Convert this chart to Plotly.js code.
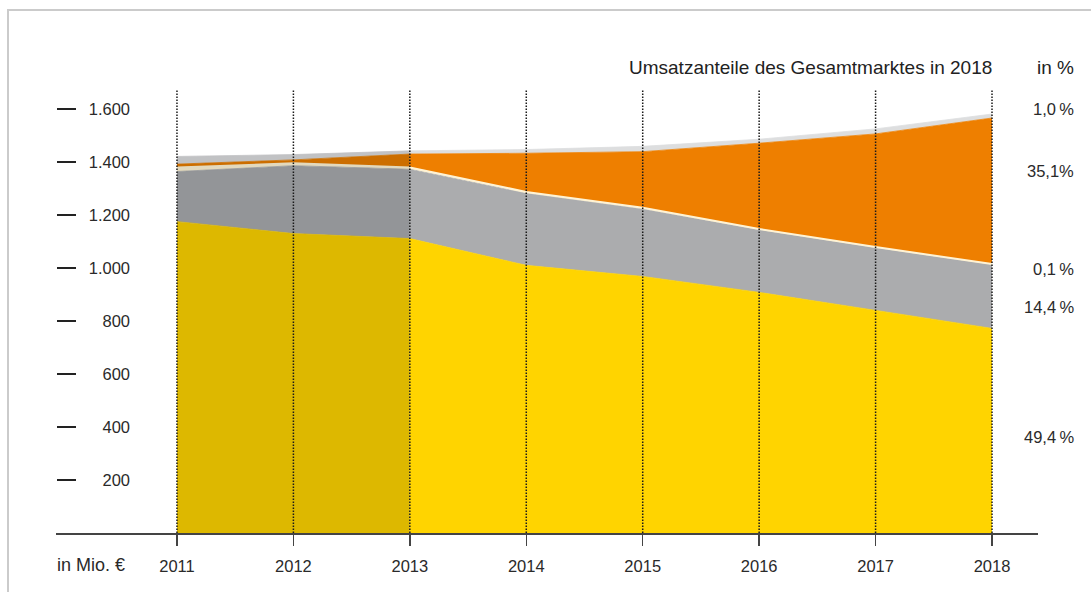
<!DOCTYPE html>
<html><head><meta charset="utf-8">
<script src="https://cdn.plot.ly/plotly-3.0.1.min.js"></script>
<style>html,body{margin:0;padding:0;background:#fff}#chart{width:1091px;height:592px}</style>
</head><body><div id="chart"></div>
<script>
// ---- data (Mio. €) ----
const years = [2011, 2012, 2013, 2014, 2015, 2016, 2017, 2018];
const lastActualYear = 2013;
const segYellow = [1175, 1130, 1111, 1010, 968, 908, 840, 772];   // 49,4 %
const segGray   = [189, 256, 262, 272, 255, 236, 236, 241];       // 14,4 %
const segCream  = [15, 9, 6, 5, 4, 3, 3, 2];                      // 0,1 %
const segOrange = [13, 13, 51, 146, 212, 324, 427, 551];          // 35,1 %
const segLight  = [29, 20, 12, 14, 20, 15, 19, 15];               // 1,0 %
const yTicks = [200, 400, 600, 800, 1000, 1200, 1400, 1600];
const shareLabels = ["1,0\u2009%", "35,1%", "0,1\u2009%", "14,4\u2009%", "49,4\u2009%"];
const titleText = "Umsatzanteile des Gesamtmarktes in 2018";
const unitRight = "in %";
const unitLeft = "in Mio. €";

// ---- styling ----
const FONT = "Liberation Sans, Arial, Helvetica, sans-serif";
const TXT = "#2a2a2a";
const series = [
  {v: segYellow, hist: "#DDB800", fore: "#FFD400", lw: 0.8},
  {v: segGray,   hist: "#939598", fore: "#ABACAE", lw: 0.8},
  {v: segCream,  hist: "#E3D9BD", fore: "#FFF3D4", lw: 2},
  {v: segOrange, hist: "#CC6E00", fore: "#EE7F00", lw: 0.8},
  {v: segLight,  hist: "#C1C2C4", fore: "#DDDEDF", lw: 0.8}
];
const split = years.indexOf(lastActualYear);
const traces = [];
function addGroup(group, from, to, key) {
  series.forEach(s => {
    traces.push({
      x: years.slice(from, to + 1), y: s.v.slice(from, to + 1),
      type: "scatter", mode: "lines", stackgroup: group,
      line: {width: s.lw, color: s[key]}, fillcolor: s[key],
      hoverinfo: "skip", showlegend: false
    });
  });
}
addGroup("hist", 0, split, "hist");
addGroup("fore", split, years.length - 1, "fore");
traces.push({x: [years[0]], y: [0], yaxis: "y2", mode: "markers", marker: {opacity: 0}, hoverinfo: "skip", showlegend: false});

const fmt = n => String(n).replace(/\B(?=(\d{3})+(?!\d))/g, ".");

const L = 56, R = 1038, T = 88, B = 533;
const W = R - L, H = B - T;
const px = x => (x - L) / W, py = y => (B - y) / H;
const yMax = H / 0.265;

const shapes = years.map(yr => ({
  type: "line", xref: "x", yref: "paper", x0: yr, x1: yr, y0: 0, y1: 0.996,
  line: {color: "#1a1a1a", width: 1.5, dash: "1.5px,1.5px"}, layer: "above"
}));
shapes.push({type: "rect", xref: "paper", yref: "paper", x0: px(8), x1: px(1110), y0: py(620), y1: py(10),
  line: {color: "#CBCBCB", width: 2}, fillcolor: "rgba(0,0,0,0)", layer: "below"});

const shareY = [109, 170.5, 269, 307, 436.5];
const annotations = shareLabels.map((t, i) => ({
  text: t, xref: "paper", yref: "paper", x: px(1076), y: py(shareY[i]),
  xanchor: "right", yanchor: "middle", showarrow: false, font: {family: FONT, size: 16.5, color: TXT}
}));
annotations.push({text: titleText, xref: "paper", yref: "paper", x: px(994), y: py(67),
  xanchor: "right", yanchor: "middle", showarrow: false, font: {family: FONT, size: 19, color: "#222"}});
annotations.push({text: unitRight, xref: "paper", yref: "paper", x: px(1076), y: py(67),
  xanchor: "right", yanchor: "middle", showarrow: false, font: {family: FONT, size: 19, color: "#222"}});
annotations.push({text: unitLeft, xref: "paper", yref: "paper", x: px(55), y: py(565),
  xanchor: "left", yanchor: "middle", showarrow: false, font: {family: FONT, size: 18, color: TXT}});

const layout = {
  width: 1091, height: 592,
  margin: {l: L, r: 1091 - R, t: T, b: 592 - B, pad: 0},
  paper_bgcolor: "#fff", plot_bgcolor: "rgba(0,0,0,0)",
  showlegend: false, hovermode: false,
  xaxis: {
    type: "linear", range: [2009.961, 2018.395], tickvals: years, ticktext: years.map(String),
    showgrid: false, zeroline: false, showline: true, linecolor: "#444", linewidth: 1.5,
    ticks: "outside", ticklen: 11, tickwidth: 1.5, tickcolor: "#444", ticklabelstandoff: 7,
    tickfont: {family: FONT, size: 16.5, color: TXT}, fixedrange: true
  },
  yaxis: {
    range: [0, yMax], anchor: "free", position: px(130), side: "left",
    tickvals: yTicks, ticktext: yTicks.map(fmt), ticks: "",
    showgrid: false, zeroline: false, showline: false,
    tickfont: {family: FONT, size: 16.5, color: TXT}, fixedrange: true
  },
  yaxis2: {
    range: [0, yMax], overlaying: "y", anchor: "free", position: px(54), side: "left",
    tickvals: yTicks, ticks: "inside", ticklen: 19, tickwidth: 1.5, tickcolor: "#222",
    showticklabels: false, showgrid: false, zeroline: false, showline: false, fixedrange: true
  },
  shapes: shapes,
  annotations: annotations
};
Plotly.newPlot("chart", traces, layout, {staticPlot: true, displayModeBar: false});
</script></body></html>
